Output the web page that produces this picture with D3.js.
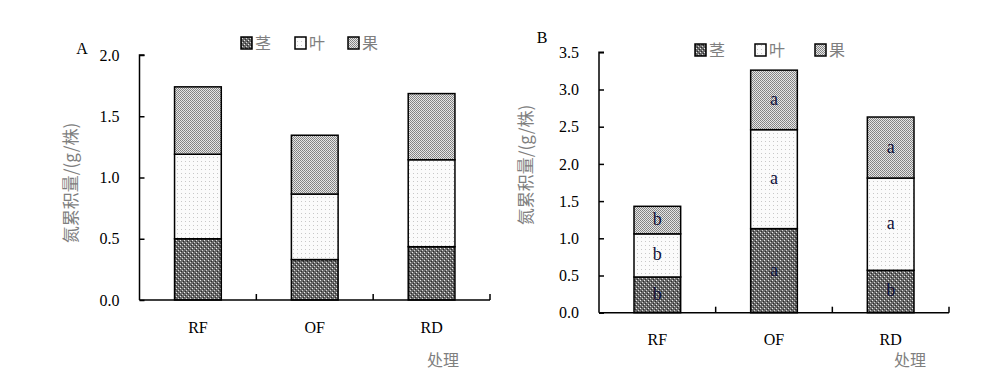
<!DOCTYPE html>
<html>
<head>
<meta charset="utf-8">
<script src="https://cdn.jsdelivr.net/npm/d3@7"></script>
<style>
  body { margin: 0; background: #fff; }
  svg { display: block; }
</style>
</head>
<body>
<svg id="chart" width="1000" height="374"></svg>
<script>
// treatments and organs
const categories = ['RF', 'OF', 'RD'];
const organs = ['茎', '叶', '果'];

// panel A values (g/株)
const stemA = [0.50, 0.33, 0.435];
const leafA = [0.69, 0.535, 0.71];
const fruitA = [0.55, 0.48, 0.54];

// panel B values (g/株)
const stemB = [0.48, 1.13, 0.57];
const leafB = [0.58, 1.33, 1.24];
const fruitB = [0.37, 0.80, 0.82];

// significance letters for panel B
const stemLetters = ['b', 'a', 'b'];
const leafLetters = ['b', 'a', 'a'];
const fruitLetters = ['b', 'a', 'a'];

const ticksA = [0, 0.5, 1.0, 1.5, 2.0];
const ticksB = [0, 0.5, 1.0, 1.5, 2.0, 2.5, 3.0, 3.5];

const svg = d3.select('#chart');
const defs = svg.append('defs');

// fill patterns, roughly like the Excel ones
function makePatterns() {
    const stem = defs.append('pattern').attr('id', 'pStem')
        .attr('width', 4).attr('height', 4).attr('patternUnits', 'userSpaceOnUse');
    stem.append('rect').attr('width', 4).attr('height', 4).attr('fill', '#696969');
    stem.append('rect').attr('x', 0).attr('y', 0).attr('width', 1).attr('height', 1).attr('fill', '#ececec');
    stem.append('rect').attr('x', 2).attr('y', 2).attr('width', 1).attr('height', 1).attr('fill', '#d4d4d4');
    stem.append('rect').attr('x', 1).attr('y', 3).attr('width', 1).attr('height', 1).attr('fill', '#2a2a2a');
    stem.append('rect').attr('x', 3).attr('y', 1).attr('width', 1).attr('height', 1).attr('fill', '#2a2a2a');

    const leaf = defs.append('pattern').attr('id', 'pLeaf')
        .attr('width', 4).attr('height', 4).attr('patternUnits', 'userSpaceOnUse');
    leaf.append('rect').attr('width', 4).attr('height', 4).attr('fill', '#fbfbfb');
    leaf.append('rect').attr('x', 1).attr('y', 1).attr('width', 1).attr('height', 1).attr('fill', '#c8c8c8');

    const fruit = defs.append('pattern').attr('id', 'pFruit')
        .attr('width', 2).attr('height', 2).attr('patternUnits', 'userSpaceOnUse');
    fruit.append('rect').attr('width', 2).attr('height', 2).attr('fill', '#e6e6e6');
    fruit.append('rect').attr('x', 0).attr('y', 0).attr('width', 1).attr('height', 1).attr('fill', '#808080');
    fruit.append('rect').attr('x', 1).attr('y', 1).attr('width', 1).attr('height', 1).attr('fill', '#8a8a8a');
}
makePatterns();

const fills = ['url(#pStem)', 'url(#pLeaf)', 'url(#pFruit)'];
const serif = '"Liberation Serif", "Times New Roman", serif';
const cjk = '"Noto Sans CJK SC", sans-serif';

function drawPanel(opts) {
    const g = svg.append('g');
    const x = d3.scaleBand().domain(categories).range([opts.x0, opts.x1]).padding(0);
    const y = d3.scaleLinear().domain([0, opts.yMax]).range([opts.y0, opts.y1]);

    const rows = categories.map((c, i) => ({
        cat: c,
        '茎': opts.stem[i],
        '叶': opts.leaf[i],
        '果': opts.fruit[i]
    }));
    const stacked = d3.stack().keys(organs)(rows);

    const barW = x.bandwidth() * 0.4;
    stacked.forEach((layer, k) => {
        g.selectAll(null).data(layer).join('rect')
            .attr('x', d => x(d.data.cat) + (x.bandwidth() - barW) / 2)
            .attr('y', d => y(d[1]))
            .attr('width', barW)
            .attr('height', d => y(d[0]) - y(d[1]))
            .attr('fill', fills[k])
            .attr('stroke', '#000')
            .attr('stroke-width', 1.5);

        if (opts.letters) {
            g.selectAll(null).data(layer).join('text')
                .attr('x', d => x(d.data.cat) + x.bandwidth() / 2)
                .attr('y', d => (y(d[0]) + y(d[1])) / 2 + 5)
                .attr('text-anchor', 'middle')
                .attr('font-family', serif)
                .attr('font-size', 18)
                .attr('fill', '#10103a')
                .text((d, i) => opts.letters[k][i]);
        }
    });

    // y axis, ticks inside
    const yAxis = g.append('g').attr('transform', `translate(${opts.x0},0)`)
        .call(d3.axisRight(y).tickValues(opts.ticks).tickSize(5).tickFormat(d3.format('.1f')));
    yAxis.select('.domain').attr('stroke', '#000').attr('stroke-width', 1.5)
        .attr('d', `M5,${opts.y1}H0V${opts.y0}`);
    yAxis.selectAll('.tick line').attr('stroke-width', 1.5);
    yAxis.selectAll('.tick text')
        .attr('x', -20).attr('text-anchor', 'end')
        .attr('font-family', serif).attr('font-size', 16).attr('fill', '#000');

    // x axis with ticks at the category boundaries
    g.append('line')
        .attr('x1', opts.x0).attr('x2', opts.x1)
        .attr('y1', opts.y0).attr('y2', opts.y0)
        .attr('stroke', '#000').attr('stroke-width', 1.5);
    g.selectAll(null).data(categories.slice(1).concat(['end'])).join('line')
        .attr('x1', d => d === 'end' ? opts.x1 : x(d))
        .attr('x2', d => d === 'end' ? opts.x1 : x(d))
        .attr('y1', opts.y0).attr('y2', opts.y0 - 6)
        .attr('stroke', '#000').attr('stroke-width', 1.5);
    g.selectAll(null).data(categories).join('text')
        .attr('x', d => x(d) + x.bandwidth() / 2)
        .attr('y', opts.y0 + opts.labelDy)
        .attr('text-anchor', 'middle')
        .attr('font-family', serif).attr('font-size', 16).attr('fill', '#000')
        .text(d => d);

    // axis titles
    g.append('text')
        .attr('transform', `translate(${opts.yLabelX},${opts.yLabelY}) rotate(-90)`)
        .attr('text-anchor', 'middle')
        .attr('font-family', cjk).attr('font-size', 17).attr('fill', '#7f7f7f')
        .text('氮累积量/(g/株)');
    g.append('text')
        .attr('x', opts.xLabelX).attr('y', 366)
        .attr('text-anchor', 'middle')
        .attr('font-family', cjk).attr('font-size', 16).attr('fill', '#7f7f7f')
        .text('处理');

    g.append('text')
        .attr('x', opts.tagX).attr('y', opts.tagY)
        .attr('text-anchor', 'middle')
        .attr('font-family', serif).attr('font-size', 16).attr('fill', '#000')
        .text(opts.tag);

    // legend
    const leg = g.append('g');
    organs.forEach((o, k) => {
        leg.append('rect')
            .attr('x', opts.legX[k]).attr('y', opts.legY)
            .attr('width', 11).attr('height', 12)
            .attr('fill', fills[k]).attr('stroke', '#000').attr('stroke-width', 1.5);
        leg.append('text')
            .attr('x', opts.legX[k] + 14).attr('y', opts.legY + 12)
            .attr('font-family', cjk).attr('font-size', 16).attr('fill', '#7f7f7f')
            .text(o);
    });
}

drawPanel({
    tag: 'A', tagX: 82, tagY: 54,
    x0: 139.5, x1: 490, y0: 300, y1: 55, yMax: 2.0, ticks: ticksA,
    stem: stemA, leaf: leafA, fruit: fruitA, letters: null,
    labelDy: 33, yLabelX: 77, yLabelY: 183, xLabelX: 443,
    legX: [241, 295, 348], legY: 37
});

drawPanel({
    tag: 'B', tagX: 542, tagY: 43,
    x0: 599, x1: 949, y0: 312.7, y1: 52.3, yMax: 3.5, ticks: ticksB,
    stem: stemB, leaf: leafB, fruit: fruitB,
    letters: [stemLetters, leafLetters, fruitLetters],
    labelDy: 32, yLabelX: 532, yLabelY: 165, xLabelX: 910,
    legX: [695, 755, 815], legY: 44
});
</script>
</body>
</html>
